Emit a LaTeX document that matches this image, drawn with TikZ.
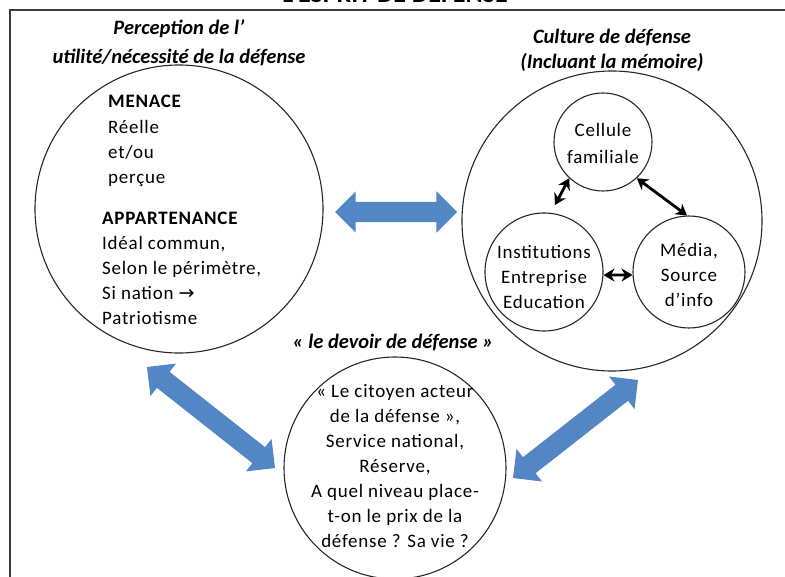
\documentclass[tikz,border=0pt]{standalone}
\usepackage{fontspec}
\setmainfont{Carlito}
\newfontfamily\bodyfont[LetterSpace=4]{Carlito}
\newfontfamily\symbfont{DejaVu Sans}
\usetikzlibrary{shapes.arrows,calc,arrows.meta}
\definecolor{arrowblue}{RGB}{83,134,196}
\definecolor{framegray}{RGB}{60,60,60}
\begin{document}
\begin{tikzpicture}[x=1pt,y=-1pt,
  ring/.style={circle, draw=black!85, line width=1.1pt, inner sep=0pt, minimum size=#1},
  body/.style={font=\bodyfont\fontsize{19}{25}\selectfont, inner sep=0pt},
  heading/.style={font=\bfseries\itshape\fontsize{20.5}{#1}\selectfont, align=center, inner sep=0pt},
  smallarrow/.style={line width=2.8pt, {Stealth[length=11pt,width=13pt,inset=3.5pt]}-{Stealth[length=11pt,width=13pt,inset=3.5pt]}},
  blockarrow/.style={double arrow, fill=arrowblue, draw=none, inner xsep=0pt, inner ysep=10pt,
    minimum width=41pt, double arrow head extend=10.5pt, double arrow tip angle=90}
]
\useasboundingbox (0,0) rectangle (785,577);
\begin{scope}
\clip (0,0) rectangle (785,577);
% title (cut off at top)
\node[font=\bfseries\fontsize{26}{30}\selectfont, anchor=base, inner sep=0pt] (title) at (395,3) {L’ESPRIT DE DÉFENSE};
% frame
\draw[framegray, line width=1.6pt] (10,600) -- (10,10) -- (800,10);

% headings
\node[heading=29] (hleft) at (179,43) {Perception de l’\\utilité/nécessité de la défense};
\node[heading=25] (hright) at (612,50) {Culture de défense\\(Incluant la mémoire)};
\node[heading=25] (hbottom) at (393,343) {« le devoir de défense »};

% circles
\node[ring=288pt] (left) at (179,209) {};
\node[ring=300pt] (right) at (612,221) {};
\node[ring=98pt] (cell) at (603,142) {};
\node[ring=118pt] (inst) at (544,272) {};
\node[ring=112pt] (media) at (689,272) {};
\node[ring=222pt] (bottom) at (395,468) {};

% left circle text
\node[body, align=left, anchor=base west] (menace) at (108,184)
  {\bfseries MENACE\\[1pt] Réelle\\ et/ou\\ perçue};
\node[body, align=left, anchor=base west] (appart) at (102,325)
  {\bfseries APPARTENANCE\\ Idéal commun,\\ Selon le périmètre,\\ Si nation {\symbfont\fontsize{19}{25}\selectfont →}\\ Patriotisme};

% right circle texts
\node[body, align=center, font=\bodyfont\fontsize{19}{27}\selectfont] (tcell) at (603,143) {Cellule\\familiale};
\node[body, align=center] (tinst) at (544,277) {Institutions\\Entreprise\\Education};
\node[body, align=center] (tmedia) at (689,275) {Média,\\Source\\d’info};

% bottom circle text
\node[body, align=center] (tbottom) at (395,466)
  {« Le citoyen acteur\\ de la défense »,\\ Service national,\\ Réserve,\\ A quel niveau place-\\ t-on le prix de la\\ défense ? Sa vie ?};

% block arrows
\coordinate (h1) at (335,212); \coordinate (h2) at (457,212);
\coordinate (d1) at (147,367); \coordinate (d2) at (275,468);
\coordinate (e1) at (638,380); \coordinate (e2) at (513,478);
\path let \p1=($(h2)-(h1)$), \n1={atan2(\y1,\x1)}, \n2={veclen(\x1,\y1)} in
  node[blockarrow, minimum height=\n2, rotate=\n1] (arrowH) at ($(h1)!0.5!(h2)$) {};
\path let \p1=($(d2)-(d1)$), \n1={atan2(\y1,\x1)}, \n2={veclen(\x1,\y1)} in
  node[blockarrow, minimum height=\n2, rotate=\n1] (arrowL) at ($(d1)!0.5!(d2)$) {};
\path let \p1=($(e2)-(e1)$), \n1={atan2(\y1,\x1)}, \n2={veclen(\x1,\y1)} in
  node[blockarrow, minimum height=\n2, rotate=\n1] (arrowR) at ($(e1)!0.5!(e2)$) {};

% small arrows
\coordinate (c1) at (555,205);
\draw[smallarrow] (cell.227) -- (c1);
\draw[smallarrow] (cell.313) -- (media.92);
\draw[smallarrow] (inst.357) -- (media.183);
\end{scope}
\end{tikzpicture}
\end{document}
